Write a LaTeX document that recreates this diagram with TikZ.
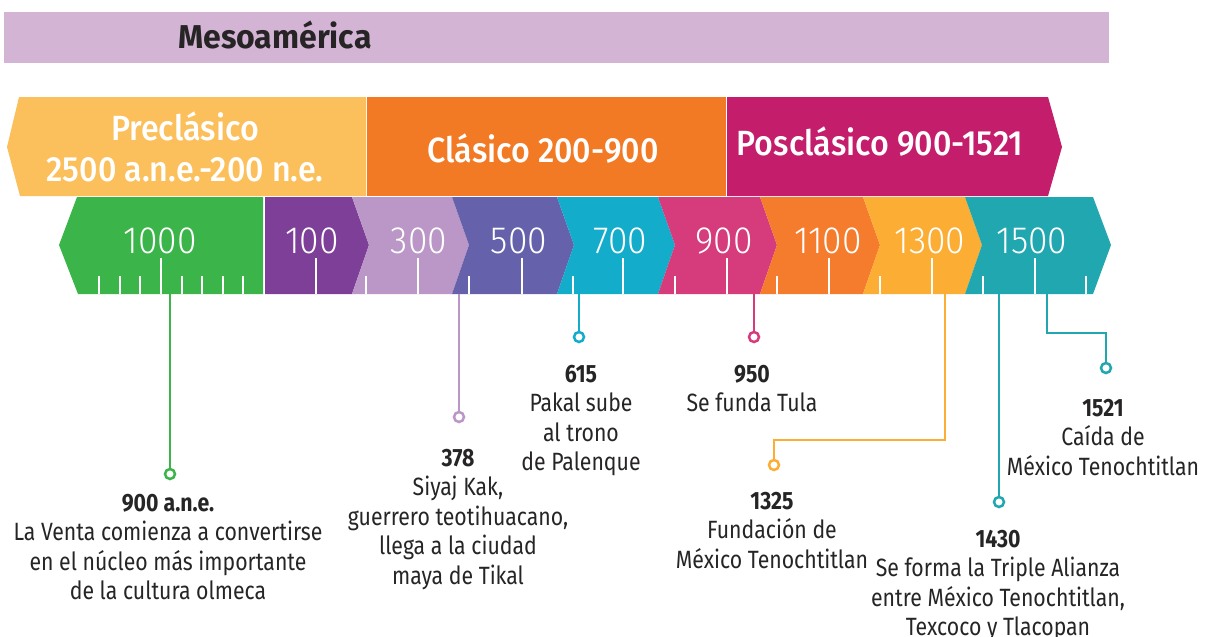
\documentclass[tikz,border=0pt]{standalone}
\usepackage{fontspec}
\setmainfont{Fira Sans}[FakeStretch=0.85]
\newfontfamily\lightfont{Fira Sans Light}[FakeStretch=0.93]
\newfontfamily\widefont{Fira Sans Medium}[FakeStretch=0.92]
\newfontfamily\hdrfont{Fira Sans}[FakeStretch=0.97]
\definecolor{hdr}{HTML}{D3B4D5}
\definecolor{precl}{HTML}{FBBF5B}
\definecolor{clas}{HTML}{F37A25}
\definecolor{poscl}{HTML}{C31D6C}
\definecolor{cgreen}{HTML}{3BB54A}
\definecolor{cpurple}{HTML}{7E3F98}
\definecolor{clilac}{HTML}{BA97C6}
\definecolor{cindigo}{HTML}{6562AB}
\definecolor{ccyan}{HTML}{13ACCB}
\definecolor{cpink}{HTML}{D63C7C}
\definecolor{corange}{HTML}{F47C2C}
\definecolor{cyellow}{HTML}{FBAD34}
\definecolor{cteal}{HTML}{20A7B0}
\definecolor{txt}{HTML}{262425}
\tikzset{
 evt/.style={anchor=base, align=center, inner sep=0pt, text=txt, font=\fontsize{25}{29.5}\selectfont},
 dot/.style={circle, draw, fill=white, line width=2.5pt, minimum size=10pt, inner sep=0pt},
 conn/.style={line width=2.5pt},
 tickmark/.style={white, line width=2pt},
 yr/.style={text=white, font=\lightfont\fontsize{38}{38}\selectfont, anchor=base, inner sep=0pt},
 per/.style={text=white, font=\widefont\fontsize{35}{41}\selectfont, anchor=base, inner sep=0pt, align=center},
}
\begin{document}
\begin{tikzpicture}[x=1pt,y=-1pt]
\useasboundingbox (0,0) rectangle (1205,637);
% header
\fill[hdr] (4,12) rectangle (1109,63);
\node[anchor=base west, inner sep=0pt, text=txt, font=\hdrfont\bfseries\fontsize{33}{33}\selectfont] (title) at (178,48) {Mesoamérica};
% periods
\fill[precl] (19,97) -- (366,97) -- (366,196) -- (20,196) -- (7,147) -- cycle;
\fill[clas] (367,97) rectangle (726,196);
\fill[poscl] (727,97) -- (1048,97) -- (1062,147) -- (1048,196) -- (727,196) -- cycle;
\node[per] (pre) at (185,181) {Preclásico\\2500 a.n.e.-200 n.e.};
\node[per] (cla) at (543,162) {Clásico 200-900};
\node[per] (pos) at (880,155) {Posclásico 900-1521};
% bar segments
\fill[cgreen] (77,197) -- (263,197) -- (263,294) -- (78,294) -- (59,245) -- cycle;
\fill[cpurple] (265,197) -- (352,197) -- (369,245) -- (352,294) -- (265,294) -- cycle;
\fill[clilac] (352,197) -- (452,197) -- (469,245) -- (452,294) -- (352,294) -- (369,245) -- cycle;
\fill[cindigo] (452,197) -- (557,197) -- (574,245) -- (557,294) -- (452,294) -- (469,245) -- cycle;
\fill[ccyan] (557,197) -- (658,197) -- (675,245) -- (658,294) -- (557,294) -- (574,245) -- cycle;
\fill[cpink] (658,197) -- (760,197) -- (777,245) -- (760,294) -- (658,294) -- (675,245) -- cycle;
\fill[corange] (760,197) -- (863,197) -- (880,245) -- (863,294) -- (760,294) -- (777,245) -- cycle;
\fill[cyellow] (863,197) -- (965,197) -- (982,245) -- (965,294) -- (863,294) -- (880,245) -- cycle;
\fill[cteal] (965,197) -- (1093,197) -- (1111,245) -- (1093,294) -- (965,294) -- (982,245) -- cycle;
% ticks
\foreach \x in {99,120,140,182,202,223,243,366,469,573,675,777,880,983,1086}
  \draw[tickmark] (\x,276) -- (\x,294);
\foreach \x in {161,316,418,522,623,727,829,932,1035}
  \draw[tickmark] (\x,258) -- (\x,294);
% bar labels
\node[yr] (y1000) at (160,253) {1000};
\node[yr] (y100) at (312,253) {100};
\node[yr] (y300) at (419,253) {300};
\node[yr] (y500) at (519,253) {500};
\node[yr] (y700) at (620,253) {700};
\node[yr] (y900) at (724,253) {900};
\node[yr] (y1100) at (828,253) {1100};
\node[yr] (y1300) at (930,253) {1300};
\node[yr] (y1500) at (1032,253) {1500};
% connector anchors
\coordinate (s1) at (170,294);
\coordinate (s2) at (459,294);
\coordinate (s3) at (579,294);
\coordinate (s4) at (754,294);
\coordinate (s5) at (945,294);
\coordinate (k5) at (945,440);
\coordinate (s6) at (999,294);
\coordinate (s7) at (1047,294);
\coordinate (k7) at (1047,333);
% dots
\node[dot, draw=cgreen] (d1) at (170,474) {};
\node[dot, draw=clilac] (d2) at (459,417) {};
\node[dot, draw=ccyan] (d3) at (579,337) {};
\node[dot, draw=cpink] (d4) at (754,337) {};
\node[dot, draw=cyellow] (d5) at (774,465) {};
\node[dot, draw=cteal] (d6) at (999,502) {};
\node[dot, draw=cteal] (d7) at (1106,368) {};
% connectors
\draw[conn, cgreen] (s1) -- (d1.north);
\draw[conn, clilac] (s2) -- (d2.north);
\draw[conn, ccyan] (s3) -- (d3.north);
\draw[conn, cpink] (s4) -- (d4.north);
\draw[conn, cyellow] (s5) -- (k5) -| (d5.north);
\draw[conn, cteal] (s6) -- (d6.north);
\draw[conn, cteal] (s7) -- (k7) -| (d7.north);
% event texts (anchor base = last line)
\node[evt] (e1) at (168,599.5) {\bfseries 900 a.n.e.\\La Venta comienza a convertirse\\en el núcleo más importante\\de la cultura olmeca};
\node[evt] (e2) at (458,584) {\bfseries 378\\Siyaj Kak,\\guerrero teotihuacano,\\llega a la ciudad\\maya de Tikal};
\node[evt] (e3) at (581,470.5) {\bfseries 615\\Pakal sube\\al trono\\de Palenque};
\node[evt] (e4) at (752,411.5) {\bfseries 950\\Se funda Tula};
\node[evt] (e5) at (772,568) {\bfseries 1325\\Fundación de\\México Tenochtitlan};
\node[evt] (e6) at (998,635.5) {\bfseries 1430\\Se forma la Triple Alianza\\entre México Tenochtitlan,\\Texcoco y Tlacopan};
\node[evt] (e7) at (1103,475) {\bfseries 1521\\Caída de\\México Tenochtitlan};
\end{tikzpicture}
\end{document}
